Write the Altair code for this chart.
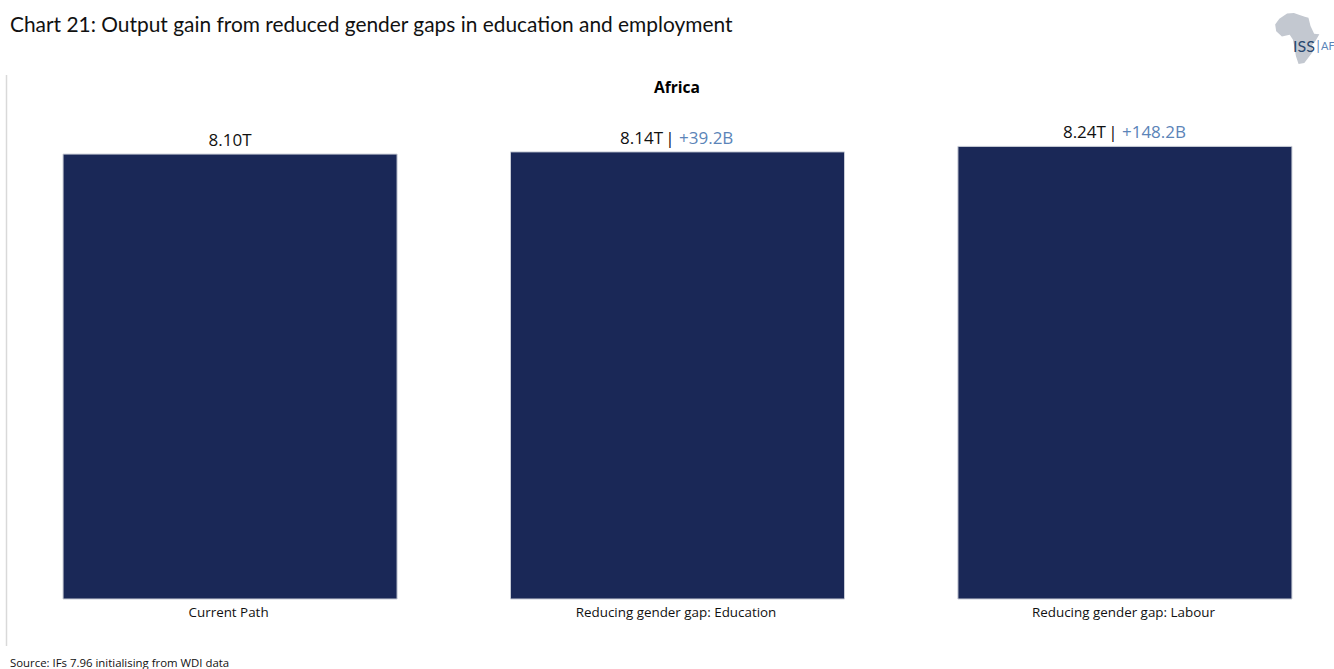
import altair as alt
import pandas as pd

# Scenario results for Africa, in trillions of US dollars
scenarios = ["Current Path", "Reducing gender gap: Education", "Reducing gender gap: Labour"]
output_t = [8.10, 8.14, 8.24]
gain_labels = ["", "+39.2B", "+148.2B"]

NAVY = "#1a2857"
BLUE = "#5b84b8"
INK = "#111111"
UI_FONT = "Open Sans"
TITLE_FONT = "Lato"

# Simplified continent outline for the publisher mark, in a -1..1 box
AFRICA_PATH = (
    "M-0.38,-0.98 L-0.12,-1 L0.1,-0.92 L0.3,-0.86 L0.44,-0.82 L0.52,-0.5 L0.66,-0.2 L0.86,-0.18 "
    "L0.72,0.06 L0.56,0.28 L0.6,0.5 L0.42,0.74 L0.28,0.92 L0.06,0.96 L-0.04,0.66 L-0.1,0.3 "
    "L-0.16,0.02 L-0.28,-0.16 L-0.58,-0.1 L-0.8,-0.3 L-0.84,-0.56 L-0.68,-0.78 Z"
)

bars_df = pd.DataFrame({"scenario": scenarios, "output": output_t, "gain": gain_labels})
bars_df["value_label"] = [f"{v:.2f}T" for v in output_t]

x_scale = alt.Scale(domain=scenarios, paddingInner=0.2535, paddingOuter=0.094)
y_scale = alt.Scale(domain=[0, 9.54], nice=False)
x = alt.X(
    "scenario:N",
    scale=x_scale,
    sort=scenarios,
    title=None,
    axis=alt.Axis(
        labelAngle=0, ticks=False, domain=False, labelPadding=6,
        labelFont=UI_FONT, labelFontSize=13.4, labelColor=INK, labelLimit=400, labelOffset=-1.5,
    ),
)
y = alt.Y("output:Q", scale=y_scale, axis=None)

bars = alt.Chart(bars_df).mark_bar(color=NAVY, stroke="#c8ccd6", strokeWidth=1).encode(x=x, y=y)

label_base = dict(font=UI_FONT, fontSize=17, baseline="bottom", dy=-4)

plain_value = (
    alt.Chart(bars_df).transform_filter("datum.gain == ''")
    .mark_text(color=INK, align="center", **label_base)
    .encode(x=x, y=y, text="value_label:N")
)


def gain_label(row):
    """Value, divider and gain for one bar, kept centred as the gain text grows."""
    part = alt.Chart(bars_df[bars_df["scenario"] == row["scenario"]])
    shift = -4.5 * (len(row["gain"]) - 6)
    value = part.mark_text(color=INK, align="right", dx=-14.5 + shift, **label_base).encode(
        x=x, y=y, text="value_label:N"
    )
    divider = part.transform_calculate(bar="'|'").mark_text(
        color=INK, align="center", dx=-7.5 + shift, **label_base
    ).encode(x=x, y=y, text="bar:N")
    gain = part.mark_text(color=BLUE, align="left", dx=1.5 + shift, **label_base).encode(
        x=x, y=y, text="gain:N"
    )
    return [value, divider, gain]


gain_layers = [
    layer for _, row in bars_df[bars_df["gain"] != ""].iterrows() for layer in gain_label(row)
]


def note(text, px, py, **style):
    """A fixed caption placed relative to the plot area."""
    return (
        alt.Chart(pd.DataFrame({"t": [text]}))
        .mark_text(align=style.pop("align", "left"), baseline="alphabetic", **style)
        .encode(x=alt.value(px), y=alt.value(py), text="t:N")
    )


LEFT, TOP = 21, 75

title = note(
    "Chart 21: Output gain from reduced gender gaps in education and employment",
    10 - LEFT, 32 - TOP, font=TITLE_FONT, fontSize=20.9, color=INK,
)
region = note("Africa", 677 - LEFT, 93 - TOP, align="center", font=UI_FONT, fontSize=15.6,
              fontWeight="bold", color="#000000")
source = note("Source: IFs 7.96 initialising from WDI data", 10 - LEFT, 667 - TOP,
              font=UI_FONT, fontSize=11.4, color=INK)

left_rule = alt.Chart(pd.DataFrame({"a": [0]})).mark_rule(color="#d9d9d9", strokeWidth=1.5).encode(
    x=alt.value(6.5 - LEFT), y=alt.value(0), y2=alt.value(646 - TOP)
)

africa = alt.Chart(pd.DataFrame({"a": [0]})).mark_point(
    shape=AFRICA_PATH, filled=True, color="#c3c8d0", opacity=1, size=2704
).encode(x=alt.value(1297 - LEFT), y=alt.value(39 - TOP))
iss = note("ISS", 1293 - LEFT, 52 - TOP, font="Lato", fontSize=16, color="#27476f")
af = note("|", 1316.5 - LEFT, 51 - TOP, font="Lato", fontSize=13, color=BLUE)
af2 = note("AF", 1321 - LEFT, 50 - TOP, font="Lato", fontSize=11, color=BLUE)

chart = (
    alt.layer(left_rule, bars, plain_value, *gain_layers, title, region, source,
              africa, iss, af, af2)
    .properties(
        width=1313, height=524,
        autosize=alt.AutoSizeParams(type="none"),
        padding={"left": LEFT, "top": TOP, "right": 0, "bottom": 70},
        background="white",
    )
    .configure_view(stroke=None)
)

chart.save("out.html", embed_options={"renderer": "svg", "actions": False})
